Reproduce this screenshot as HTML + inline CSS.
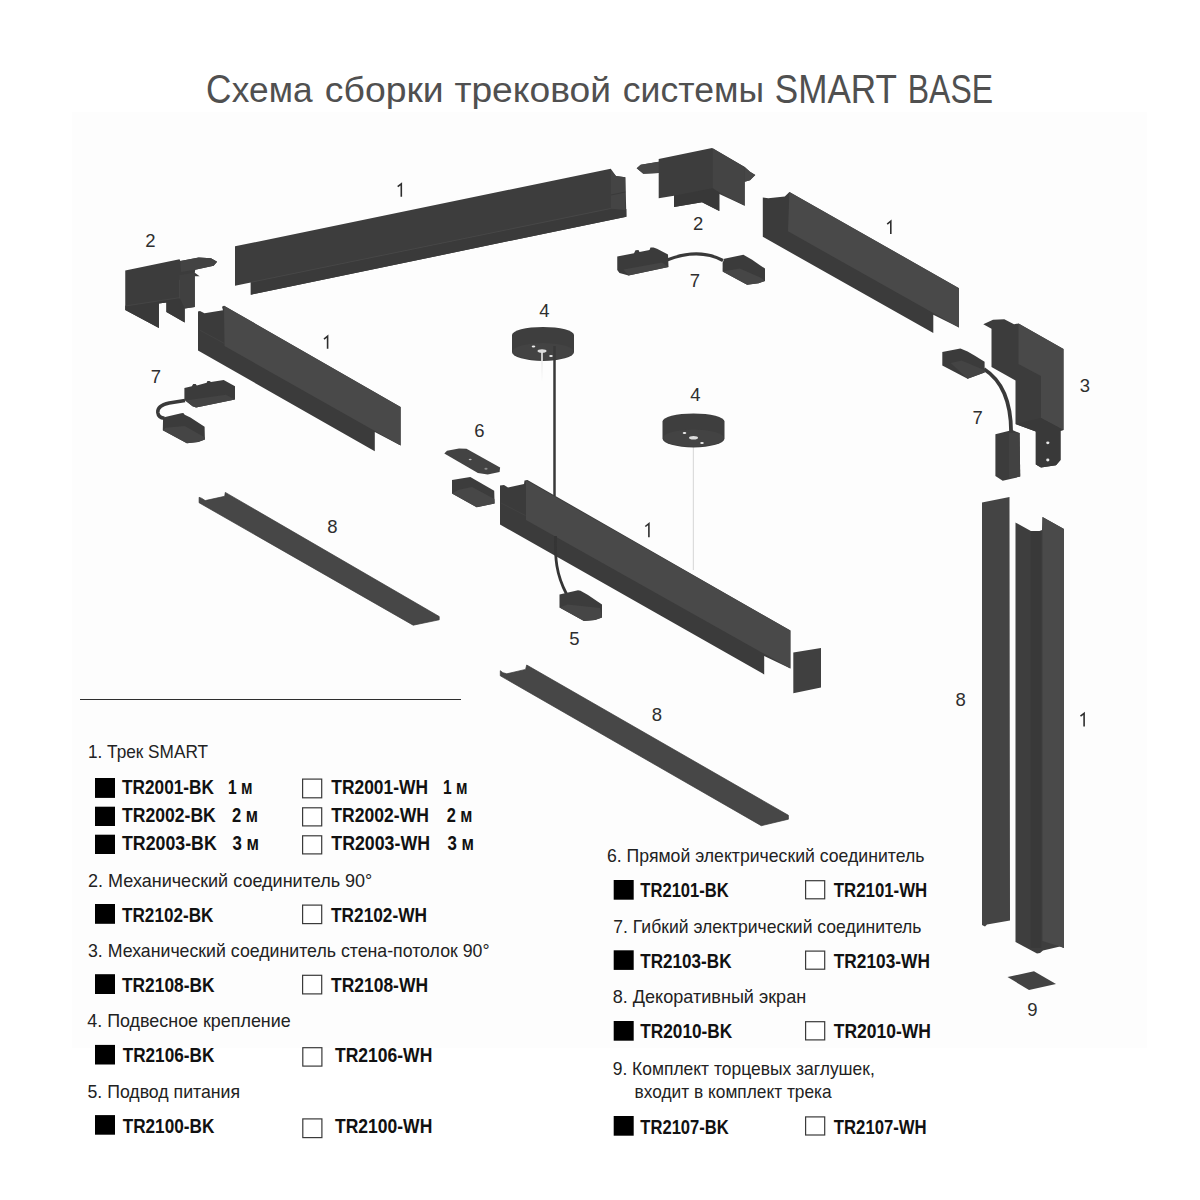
<!DOCTYPE html>
<html><head><meta charset="utf-8">
<style>
html,body{margin:0;padding:0;background:#fff;width:1200px;height:1200px;overflow:hidden}
svg{display:block}
text{font-family:"Liberation Sans",sans-serif}
.t{fill:#505050;font-size:41px}
.h{fill:#222;font-size:19px}
.c{fill:#111;font-size:20px;font-weight:bold}
.n{fill:#2e2e2e;font-size:18.5px}
.b{fill:#404040}
.l{fill:#4a4a4a}
.d{fill:#393939}
</style></head><body>
<svg width="1200" height="1200" viewBox="0 0 1200 1200">
<rect x="0" y="0" width="1200" height="1200" fill="#fff"/>
<rect x="72" y="112" width="1075" height="936" fill="#fdfdfd"/>

<!-- Title -->
<text class="t" x="206.1" y="102.5" textLength="25.4" lengthAdjust="spacingAndGlyphs">С</text>
<text class="t" x="231.8" y="102.5" textLength="80.7" lengthAdjust="spacingAndGlyphs" transform="translate(0,102.5) scale(1,0.86) translate(0,-102.5)">хема</text>
<text class="t" x="324.8" y="102.5" textLength="118.9" lengthAdjust="spacingAndGlyphs" transform="translate(0,102.5) scale(1,0.86) translate(0,-102.5)">сборки</text>
<text class="t" x="454.4" y="102.5" textLength="156.6" lengthAdjust="spacingAndGlyphs" transform="translate(0,102.5) scale(1,0.86) translate(0,-102.5)">трековой</text>
<text class="t" x="622.8" y="102.5" textLength="141.2" lengthAdjust="spacingAndGlyphs" transform="translate(0,102.5) scale(1,0.86) translate(0,-102.5)">системы</text>
<text class="t" x="774.8" y="102.5" textLength="122.2" lengthAdjust="spacingAndGlyphs">SMART</text>
<text class="t" x="907.8" y="102.5" textLength="85.2" lengthAdjust="spacingAndGlyphs">BASE</text>

<!-- DIAGRAM -->
<g id="diagram">
<!-- A corner 2 top-left -->
<polygon fill="#3c3c3c" points="125.25,270.6 179.5,259.2 180.4,260.9 198.7,257.4 211,258.3 217.1,261.8 213.6,265.75 195.2,269.7 194.8,272.75 199.6,276.25 194.8,276.25 194.8,306.9 184.7,308.6 184.7,322.6 166.4,312.1 166.4,302.5 158.9,303.4 158.9,327.9 125.25,309.9"/>
<polygon fill="#434343" points="180.4,260.9 198.7,257.4 211,258.3 217.1,261.8 213.6,265.75 195.2,269.7 181,272"/>
<polygon fill="#404040" points="179.5,275 194.8,272.75 194.8,306.9 184.7,308.6 179.5,298"/>
<polygon fill="#393939" points="125.25,306 179.5,297.7 184.7,308.6 184.7,322.6 166.4,312.1 166.4,302.5 158.9,303.4 158.9,327.9 125.25,309.9"/>
<line x1="125.25" y1="306" x2="179.5" y2="297.7" stroke="#474747" stroke-width="0.8"/>
<line x1="179.5" y1="279.75" x2="179.5" y2="298.6" stroke="#474747" stroke-width="0.8"/>

<!-- B top track -->
<polygon fill="#3d3d3d" points="235,246.3 610.7,168.7 612,170.5 616,176 625.3,177.3 626.4,216.7 250.8,294.7 250.8,282.5 235,285.8"/>
<polygon fill="#3a3a3a" points="250.8,282.5 610.7,208.7 626.4,209 626.4,216.7 250.8,294.7"/>
<line x1="250.8" y1="282.3" x2="610.7" y2="208.5" stroke="#4a4a4a" stroke-width="0.8"/>
<polygon fill="#444444" points="611,171 616,176 625.3,177.3 625.3,210 611,208.7"/>
<line x1="611" y1="195" x2="625.3" y2="192" stroke="#3a3a3a" stroke-width="1"/>

<!-- C corner 2 top-right -->
<polygon fill="#3d3d3d" points="636.7,168.3 640.7,164.7 658.7,161.7 658.7,159 712,147.9 744.7,167 750,171.7 755.3,175 750,180.3 744.7,181.7 744.7,205.7 719.3,194 719.3,211 702,202.3 674,207 674,195.7 658.7,198.3 658.7,173 643.3,173.7"/>
<polygon fill="#444444" points="712.7,148.3 744.7,167 744.7,205.7 719.3,192.5 712.7,188.3"/>
<polygon fill="#383838" points="674,195.7 712.7,188.3 719.3,192.5 719.3,211 702,202.3 674,207"/>
<polygon fill="#474747" points="636.7,168.3 640.7,164.7 658.7,161.7 658.7,173 643.3,173.7"/>
<polygon fill="#474747" points="744.7,167 750,171.7 755.3,175 750,180.3 744.7,181.7"/>

<!-- D flexible 7 top -->
<path d="M667,260 C685,253 705,251 723,260.5" stroke="#393939" stroke-width="3.2" fill="none"/>
<polygon fill="#3b3b3b" points="617.25,256.5 634,253.25 635.5,250.25 638.5,250 639.5,252 649.5,250 650.5,247.5 653.5,247.5 657,248.75 668,254.5 668.5,267 628.5,275.5 619.5,273 617.25,270"/>
<polygon fill="#454545" points="623.5,269.5 662,262.5 668.5,267 628.5,275.5"/>
<polygon fill="#3b3b3b" points="722.6,263.1 724.2,258.8 743.4,254.65 751.7,259.5 765,268.6 765,281 758.6,283.3 747.1,284.7 722.6,271.4"/>
<polygon fill="#464646" points="722.6,271.4 739.8,268.6 760.9,277.8 765,281 758.6,283.3 747.1,284.7"/>

<!-- E right track -->
<polygon fill="#3b3b3b" points="762.8,197.4 768.3,198.3 784.8,196.5 789.4,191.9 959,288.2 959,327.6 933.3,314.75 933.3,333.1 762.8,236.8"/>
<polygon fill="#494949" points="789.4,191.9 959,288.2 959,327.6 788,231.3"/>

<!-- F wall-ceiling 3 -->
<polygon fill="#3c3c3c" points="983.3,324.3 993,319.75 1004.3,319.3 1014,324.3 1018.5,323.5 1063.5,349 1063.5,430 1060.5,430.8 1060.5,460 1056,465.3 1041,467.5 1035.8,464.5 1035.8,431.5 1015.5,424 1015.5,380.5 991.5,367 991.5,328.75"/>
<polygon fill="#494949" points="1018.5,323.5 1063.5,349 1063.5,430 1041,418 1041,376 1018.5,364"/>
<polygon fill="#393939" points="1015.5,424 1041,418 1063.5,430 1060.5,430.8 1060.5,460 1056,465.3 1041,467.5 1035.8,464.5 1035.8,431.5"/>
<ellipse cx="1047.8" cy="442.8" rx="1.6" ry="1.4" fill="#e8e8e8"/>
<ellipse cx="1047.8" cy="460" rx="1.6" ry="1.4" fill="#e8e8e8"/>

<!-- G flexible 7 right -->
<path d="M984,369 C998,378 1011,396 1011.1,432" stroke="#393939" stroke-width="3.8" fill="none"/>
<polygon fill="#3b3b3b" points="942.3,352.1 960.4,348.5 967.6,351.5 974.9,355.7 984.6,361.8 984.6,372.6 967.6,378.7 942.3,365.4"/>
<polygon fill="#444444" points="950.7,363 961.6,360.5 984.6,370.2 984.6,372.6 967.6,378.7"/>
<polygon fill="#3c3c3c" points="995.4,434.3 1012.4,430 1019.6,433.1 1020.2,476.6 1002.7,480.8 995.4,476"/>
<polygon fill="#424242" points="1009,433 1019.6,433.1 1020.2,476.6 1009,478"/>

<!-- H left track -->
<polygon fill="#3b3b3b" points="198,311.5 200,311 204.5,313.25 223,310.25 222,306.75 224,305.75 400.6,407.1 400.6,445.5 374.8,432 374.8,451.2 198,350.6"/>
<polygon fill="#494949" points="224,305.75 400.6,407.1 400.6,445.5 224.5,346"/>
<line x1="199.5" y1="330" x2="224.5" y2="343.5" stroke="#444" stroke-width="0.8"/>

<!-- I flexible 7 left -->
<path d="M185,400.5 L169.2,403 C160,405 157.5,409 157.8,412.5 C158.2,416 160.5,418 164.5,418.3" stroke="#393939" stroke-width="3.5" fill="none"/>
<polygon fill="#3b3b3b" points="184.4,388.1 191.8,386.3 193.2,383.9 195.7,383.9 196.8,385.6 206.7,382.8 207.4,381 209.5,381 211,382.1 223.7,380 235,386.3 235,399.4 196.1,407.6 192.5,406.2 184.4,400.1"/>
<polygon fill="#444444" points="185.5,400.5 225.8,394.8 235,399.4 196.1,407.6 192.5,406.2"/>
<polygon fill="#3b3b3b" points="163.1,417.5 181.2,413.2 183.3,412.9 184.7,414.7 190.4,417.5 204.6,426.7 204.9,439.4 198.2,441.9 186.9,443.3 162.8,430.2"/>
<polygon fill="#454545" points="165.6,427.8 184.7,426 204.6,437.3 204.9,439.4 198.2,441.9 186.9,443.3 162.8,430.2"/>

<!-- J pendant 4 + cable + 5 -->
<path fill="#3e3e3e" d="M512,335 A31,8 0 0 1 574,335 L574,352 A31,9 0 0 1 512,352 Z"/>
<ellipse cx="543" cy="351.5" rx="30.5" ry="8.5" fill="#434343"/>
<ellipse cx="533.5" cy="346.5" rx="1.8" ry="1.1" fill="#eee"/>
<ellipse cx="551" cy="356" rx="1.8" ry="1.1" fill="#eee"/>
<ellipse cx="542" cy="351" rx="4.5" ry="1.8" fill="#ddd"/>
<defs><linearGradient id="wg" x1="0" y1="0" x2="0" y2="1"><stop offset="0" stop-color="#e6e6e6"/><stop offset="1" stop-color="#fdfdfd"/></linearGradient></defs>
<rect x="541.2" y="352" width="1.6" height="30" fill="url(#wg)"/>
<line x1="554.5" y1="346" x2="554.5" y2="496" stroke="#393939" stroke-width="2.5"/>

<!-- K pendant 4 -->
<line x1="693.4" y1="438" x2="693.4" y2="570" stroke="#dcdcdc" stroke-width="1.2"/>
<path fill="#3e3e3e" d="M662.5,421.5 A31,8 0 0 1 724.5,421.5 L724.5,438.5 A31,9 0 0 1 662.5,438.5 Z"/>
<ellipse cx="693.5" cy="438" rx="30.5" ry="8.5" fill="#434343"/>
<ellipse cx="684.5" cy="433" rx="1.8" ry="1.1" fill="#eee"/>
<ellipse cx="702" cy="443" rx="1.8" ry="1.1" fill="#eee"/>
<ellipse cx="693.5" cy="437.8" rx="4.5" ry="1.8" fill="#ddd"/>

<!-- L straight connector 6 -->
<polygon fill="#434343" points="444.3,453.5 447,450.8 459,448.4 466.5,448.7 500.1,467.6 499.6,472 487.7,474.4 477.9,473"/>
<ellipse cx="470.2" cy="459.5" rx="1.5" ry="0.7" fill="#bbb"/>
<ellipse cx="486" cy="468.7" rx="1.6" ry="1" fill="#8a8a8a"/>
<polygon fill="#3c3c3c" points="452,480.1 470.3,476.9 494.2,490.7 494.6,503.5 476.7,507.2 452,493.4"/>
<polygon fill="#474747" points="458,490 472,487 494.4,499 494.6,503.5 476.7,507.2 452,493.4"/>

<!-- M center track -->
<polygon fill="#3b3b3b" points="500,485.5 504,485 508,487.5 524,484 524.5,480.5 527.5,480 790.4,630.6 790.4,668.5 764.2,656 764.2,674.4 500,524.5"/>
<line x1="501" y1="503" x2="525.5" y2="515.5" stroke="#444" stroke-width="0.8"/>
<polygon fill="#494949" points="526,480.3 790.4,630.6 790.4,668.5 526,520"/>
<polygon fill="#404040" points="793.3,652.5 821,648.1 821,687.5 793.3,693.3"/>
<path d="M555.5,536 C555,558 556,574 566.5,594" stroke="#353535" stroke-width="2.8" fill="none"/>
<polygon fill="#3c3c3c" points="559.5,594.5 578,590.25 580.5,590.75 588,595 602,604.5 602,617.5 595,620 584,621 559.5,607.5"/>
<polygon fill="#464646" points="567.5,604.5 600,608 602,617.5 595,620 584,621 559.5,607.5"/>

<!-- N screen 8 left -->
<polygon fill="#474747" stroke="#3a3a3a" stroke-width="0.7" points="199.1,497.3 201.9,498.4 205.2,500.6 224.7,496.3 225.3,492.4 439.2,616.5 439.2,619.8 413.2,625.2 199.1,502.75"/>

<!-- O screen 8 center -->
<polygon fill="#474747" stroke="#3a3a3a" stroke-width="0.7" points="500.3,670.7 502.9,672.7 506.8,673.8 525.6,669.4 526.7,665 788.4,815.3 788.4,819.2 761.3,825.7 500.3,675.8"/>

<!-- P vertical screen -->
<polygon fill="#444444" points="982,502.5 1009.5,497 1010,920.5 987,924.5 985,926.5 982,925"/>

<!-- Q vertical track -->
<polygon fill="#3e3e3e" points="1015.5,522.5 1034.5,533 1042,530 1042.5,517 1064,529 1064,948 1060,946.5 1043,950.5 1040,953 1037,953.5 1015.5,942"/>
<polygon fill="#393939" points="1030.7,531 1041.3,531 1041.3,948 1030.7,948"/>
<polygon fill="#4a4a4a" points="1042.5,517 1064,529 1064,948 1060,946.5 1042.5,941"/>

<!-- R end cap 9 -->
<polygon fill="#434343" points="1007.5,977 1034,971.2 1056,984 1029,990"/>
</g>

<!-- Diagram labels -->
<g class="labels">
<path d="M397.7,186.7 L401.3,183.8 L401.3,196.7" stroke="#2e2e2e" stroke-width="1.6" fill="none"/>
<text class="n" x="150.3" y="246.5" text-anchor="middle">2</text>
<text class="n" x="698.1" y="230" text-anchor="middle">2</text>
<text class="n" x="695" y="286.7" text-anchor="middle">7</text>
<path d="M887.2,224.2 L890.8,221.2 L890.8,234.0" stroke="#2e2e2e" stroke-width="1.6" fill="none"/>
<text class="n" x="1084.9" y="391.8" text-anchor="middle">3</text>
<text class="n" x="977.7" y="424" text-anchor="middle">7</text>
<path d="M324.0,339.1 L327.6,336.2 L327.6,348.7" stroke="#2e2e2e" stroke-width="1.6" fill="none"/>
<text class="n" x="156" y="382.5" text-anchor="middle">7</text>
<text class="n" x="544.5" y="316.5" text-anchor="middle">4</text>
<text class="n" x="695.5" y="400.5" text-anchor="middle">4</text>
<text class="n" x="479.3" y="437" text-anchor="middle">6</text>
<path d="M645.3,526.5 L648.9,523.6 L648.9,537.3" stroke="#2e2e2e" stroke-width="1.6" fill="none"/>
<text class="n" x="574.4" y="645" text-anchor="middle">5</text>
<text class="n" x="332.3" y="533.1" text-anchor="middle">8</text>
<text class="n" x="657" y="721" text-anchor="middle">8</text>
<text class="n" x="960.7" y="706" text-anchor="middle">8</text>
<path d="M1080.5,716.2 L1084.1,713.3 L1084.1,726.4" stroke="#2e2e2e" stroke-width="1.6" fill="none"/>
<text class="n" x="1032.5" y="1015.8" text-anchor="middle">9</text>
</g>

<!-- LEGEND -->
<line x1="80" y1="699.5" x2="461" y2="699.5" stroke="#2e2e2e" stroke-width="1.2"/>
<g id="legend">
<text class="h" x="88" y="758.3" textLength="120.0" lengthAdjust="spacingAndGlyphs">1. Трек SMART</text>
<rect x="95" y="778" width="20" height="19.9" fill="#000"/>
<text class="c" x="122" y="793.5" textLength="92.0" lengthAdjust="spacingAndGlyphs">TR2001-BK</text>
<text class="c" x="228" y="793.5" textLength="24.5" lengthAdjust="spacingAndGlyphs">1 м</text>
<rect x="302.6" y="779.1" width="19.1" height="18.7" fill="#fff" stroke="#3a3a3a" stroke-width="1.2"/>
<text class="c" x="331.3" y="793.5" textLength="96.7" lengthAdjust="spacingAndGlyphs">TR2001-WH</text>
<text class="c" x="443" y="793.5" textLength="24.5" lengthAdjust="spacingAndGlyphs">1 м</text>
<rect x="95" y="806.7" width="20" height="19.3" fill="#000"/>
<text class="c" x="122" y="821.5" textLength="93.8" lengthAdjust="spacingAndGlyphs">TR2002-BK</text>
<text class="c" x="232" y="821.5" textLength="26.0" lengthAdjust="spacingAndGlyphs">2 м</text>
<rect x="302.6" y="807.8000000000001" width="19.1" height="18.1" fill="#fff" stroke="#3a3a3a" stroke-width="1.2"/>
<text class="c" x="331.3" y="821.5" textLength="97.7" lengthAdjust="spacingAndGlyphs">TR2002-WH</text>
<text class="c" x="446.7" y="821.5" textLength="25.8" lengthAdjust="spacingAndGlyphs">2 м</text>
<rect x="95" y="834.7" width="20" height="19.3" fill="#000"/>
<text class="c" x="122" y="849.5" textLength="94.7" lengthAdjust="spacingAndGlyphs">TR2003-BK</text>
<text class="c" x="232.5" y="849.5" textLength="26.5" lengthAdjust="spacingAndGlyphs">3 м</text>
<rect x="302.6" y="835.8000000000001" width="19.1" height="18.1" fill="#fff" stroke="#3a3a3a" stroke-width="1.2"/>
<text class="c" x="331.3" y="849.5" textLength="98.7" lengthAdjust="spacingAndGlyphs">TR2003-WH</text>
<text class="c" x="447.5" y="849.5" textLength="26.5" lengthAdjust="spacingAndGlyphs">3 м</text>
<text class="h" x="88" y="886.7" textLength="284.3" lengthAdjust="spacingAndGlyphs">2. Механический соединитель 90°</text>
<rect x="95" y="904" width="20" height="19.8" fill="#000"/>
<text class="c" x="122" y="921.5" textLength="91.5" lengthAdjust="spacingAndGlyphs">TR2102-BK</text>
<rect x="302.6" y="905.1" width="19.1" height="18.5" fill="#fff" stroke="#3a3a3a" stroke-width="1.2"/>
<text class="c" x="331" y="921.5" textLength="96.0" lengthAdjust="spacingAndGlyphs">TR2102-WH</text>
<text class="h" x="88" y="956.7" textLength="401.5" lengthAdjust="spacingAndGlyphs">3. Механический соединитель стена-потолок 90°</text>
<rect x="95" y="974.2" width="20" height="19.8" fill="#000"/>
<text class="c" x="122" y="991.7" textLength="92.5" lengthAdjust="spacingAndGlyphs">TR2108-BK</text>
<rect x="302.6" y="975.3000000000001" width="19.1" height="18.6" fill="#fff" stroke="#3a3a3a" stroke-width="1.2"/>
<text class="c" x="331" y="991.7" textLength="97.0" lengthAdjust="spacingAndGlyphs">TR2108-WH</text>
<text class="h" x="87.3" y="1027" textLength="203.4" lengthAdjust="spacingAndGlyphs">4. Подвесное крепление</text>
<rect x="95" y="1044.9" width="20" height="19.6" fill="#000"/>
<text class="c" x="122.7" y="1062" textLength="91.6" lengthAdjust="spacingAndGlyphs">TR2106-BK</text>
<rect x="302.8" y="1047.6999999999998" width="19.1" height="18.4" fill="#fff" stroke="#3a3a3a" stroke-width="1.2"/>
<text class="c" x="335" y="1062.2" textLength="97.3" lengthAdjust="spacingAndGlyphs">TR2106-WH</text>
<text class="h" x="87.5" y="1097.5" textLength="152.5" lengthAdjust="spacingAndGlyphs">5. Подвод питания</text>
<rect x="95" y="1115.1" width="20" height="19.6" fill="#000"/>
<text class="c" x="122.7" y="1132.5" textLength="91.6" lengthAdjust="spacingAndGlyphs">TR2100-BK</text>
<rect x="302.8" y="1118.8999999999999" width="19.1" height="18.7" fill="#fff" stroke="#3a3a3a" stroke-width="1.2"/>
<text class="c" x="335" y="1132.7" textLength="97.3" lengthAdjust="spacingAndGlyphs">TR2100-WH</text>
<text class="h" x="607" y="862" textLength="317.4" lengthAdjust="spacingAndGlyphs">6. Прямой электрический соединитель</text>
<rect x="613.7" y="880" width="20" height="19.7" fill="#000"/>
<text class="c" x="640.3" y="897.3" textLength="88.5" lengthAdjust="spacingAndGlyphs">TR2101-BK</text>
<rect x="805.6" y="880.7" width="19.1" height="18.1" fill="#fff" stroke="#3a3a3a" stroke-width="1.2"/>
<text class="c" x="833.8" y="897.3" textLength="93.4" lengthAdjust="spacingAndGlyphs">TR2101-WH</text>
<text class="h" x="613.3" y="932.7" textLength="308.2" lengthAdjust="spacingAndGlyphs">7. Гибкий электрический соединитель</text>
<rect x="613.7" y="950.3" width="20" height="19.6" fill="#000"/>
<text class="c" x="640.3" y="967.7" textLength="91.2" lengthAdjust="spacingAndGlyphs">TR2103-BK</text>
<rect x="805.6" y="951.1" width="19.1" height="18.1" fill="#fff" stroke="#3a3a3a" stroke-width="1.2"/>
<text class="c" x="833.8" y="967.7" textLength="96.1" lengthAdjust="spacingAndGlyphs">TR2103-WH</text>
<text class="h" x="612.7" y="1003.2" textLength="193.5" lengthAdjust="spacingAndGlyphs">8. Декоративный экран</text>
<rect x="613.7" y="1021" width="20" height="19.7" fill="#000"/>
<text class="c" x="640.3" y="1038.3" textLength="91.9" lengthAdjust="spacingAndGlyphs">TR2010-BK</text>
<rect x="805.6" y="1021.7" width="19.1" height="18.2" fill="#fff" stroke="#3a3a3a" stroke-width="1.2"/>
<text class="c" x="833.8" y="1038.3" textLength="97.2" lengthAdjust="spacingAndGlyphs">TR2010-WH</text>
<text class="h" x="612.7" y="1075" textLength="262.1" lengthAdjust="spacingAndGlyphs">9. Комплект торцевых заглушек,</text>
<text class="h" x="634.6" y="1097.6" textLength="197.1" lengthAdjust="spacingAndGlyphs">входит в комплект трека</text>
<rect x="613.7" y="1116" width="20" height="19.7" fill="#000"/>
<text class="c" x="640.3" y="1133.7" textLength="88.5" lengthAdjust="spacingAndGlyphs">TR2107-BK</text>
<rect x="805.6" y="1116.8999999999999" width="19.1" height="18.1" fill="#fff" stroke="#3a3a3a" stroke-width="1.2"/>
<text class="c" x="833.8" y="1133.7" textLength="92.9" lengthAdjust="spacingAndGlyphs">TR2107-WH</text>
</g>
</svg>
</body></html>
